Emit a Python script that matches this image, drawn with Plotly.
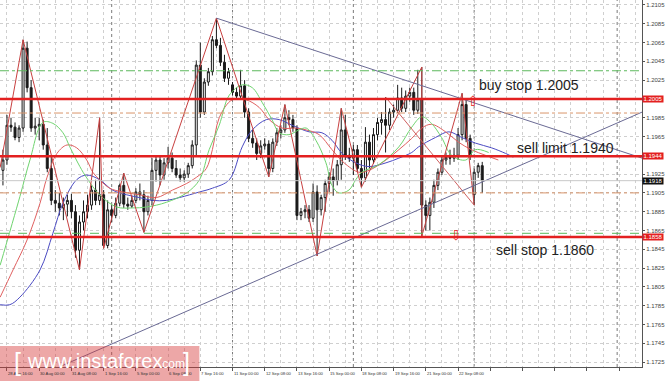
import plotly.graph_objects as go

# ---------------- data (EUR/USD H4) ----------------
bar_index = list(range(-1, 119))
opens = [1.1929, 1.1940, 1.1977, 1.1975, 1.1964, 1.1974, 1.2059, 1.2017, 1.1974, 1.1976,
         1.1978, 1.1956, 1.1931, 1.1897, 1.1894, 1.1889, 1.1893, 1.1897, 1.1885, 1.1844,
         1.1874, 1.1885, 1.1892, 1.1908, 1.1897, 1.1903, 1.1849, 1.1887, 1.1881, 1.1894,
         1.1913, 1.1893, 1.1891, 1.1897, 1.1906, 1.1903, 1.1885, 1.1897, 1.1929, 1.1940,
         1.1924, 1.1937, 1.1942, 1.1931, 1.1924, 1.1921, 1.1925, 1.1934, 1.1956, 1.2041,
         1.1991, 1.2023, 1.2034, 1.2068, 1.2062, 1.2044, 1.2027, 1.2020, 1.2012, 1.2008,
         1.2019, 1.1991, 1.1963, 1.1958, 1.1947, 1.1955, 1.1957, 1.1931, 1.1959, 1.1969,
         1.1972, 1.1985, 1.1983, 1.1974, 1.1881, 1.1885, 1.1887, 1.1878, 1.1906, 1.1887,
         1.1900, 1.1915, 1.1922, 1.1918, 1.1935, 1.1972, 1.1945, 1.1942, 1.1951, 1.1931,
         1.1921, 1.1959, 1.1940, 1.1967, 1.1980, 1.1983, 1.1977, 1.1991, 1.1993, 1.2006,
         1.1995, 1.2008, 1.2012, 1.1993, 1.2004, 1.1892, 1.1881, 1.1895, 1.1913, 1.1927,
         1.1940, 1.1943, 1.1942, 1.1945, 1.1967, 1.1999, 1.1963, 1.1903, 1.1927, 1.1934]
highs = [1.1951, 1.1988, 1.1985, 1.1980, 1.1977, 1.2068, 1.2066, 1.2025, 1.1985, 1.1985,
         1.1983, 1.1974, 1.1945, 1.1908, 1.1905, 1.1900, 1.1903, 1.1904, 1.1892, 1.1881,
         1.1897, 1.1903, 1.1913, 1.1919, 1.1985, 1.1908, 1.1897, 1.1892, 1.1900, 1.1915,
         1.1926, 1.1900, 1.1902, 1.1910, 1.1915, 1.1908, 1.1902, 1.1942, 1.1945, 1.1945,
         1.1942, 1.1954, 1.1948, 1.1940, 1.1931, 1.1929, 1.1937, 1.1961, 1.2046, 1.2065,
         1.2027, 1.2038, 1.2072, 1.2091, 1.2070, 1.2052, 1.2038, 1.2023, 1.2017, 1.2036,
         1.2025, 1.1995, 1.1972, 1.1963, 1.1961, 1.1963, 1.1961, 1.1963, 1.1974, 1.1977,
         1.1999, 1.1993, 1.1988, 1.1977, 1.1889, 1.1892, 1.1892, 1.1915, 1.1913, 1.1903,
         1.1919, 1.1927, 1.1931, 1.1940, 1.1995, 1.1988, 1.1953, 1.1956, 1.1956, 1.1940,
         1.1975, 1.1967, 1.1974, 1.1985, 1.1991, 1.2007, 1.1995, 1.1999, 1.2020, 1.2017,
         1.2014, 1.2017, 1.2017, 1.2036, 1.2039, 1.1897, 1.1900, 1.1919, 1.1931, 1.1945,
         1.1948, 1.1951, 1.1953, 1.1974, 1.2011, 1.2004, 1.1967, 1.1931, 1.1937, 1.1938]
lows = [1.1913, 1.1935, 1.1970, 1.1961, 1.1959, 1.1970, 1.2012, 1.1970, 1.1967, 1.1961,
        1.1951, 1.1927, 1.1892, 1.1885, 1.1881, 1.1876, 1.1880, 1.1878, 1.1836, 1.1823,
        1.1865, 1.1878, 1.1887, 1.1892, 1.1892, 1.1846, 1.1846, 1.1874, 1.1878, 1.1891,
        1.1889, 1.1887, 1.1889, 1.1894, 1.1897, 1.1863, 1.1881, 1.1892, 1.1917, 1.1913,
        1.1919, 1.1931, 1.1927, 1.1921, 1.1917, 1.1917, 1.1921, 1.1931, 1.1944, 1.1985,
        1.1988, 1.2019, 1.2030, 1.2059, 1.2040, 1.2023, 1.2020, 1.2009, 1.2004, 1.2006,
        1.1985, 1.1959, 1.1953, 1.1940, 1.1942, 1.1951, 1.1922, 1.1927, 1.1955, 1.1963,
        1.1969, 1.1977, 1.1970, 1.1876, 1.1876, 1.1878, 1.1874, 1.1874, 1.1838, 1.1881,
        1.1885, 1.1906, 1.1902, 1.1913, 1.1919, 1.1940, 1.1938, 1.1924, 1.1927, 1.1911,
        1.1917, 1.1931, 1.1936, 1.1961, 1.1967, 1.1948, 1.1972, 1.1985, 1.1990, 1.1991,
        1.1991, 1.2002, 1.1988, 1.1989, 1.1859, 1.1865, 1.1865, 1.1889, 1.1908, 1.1924,
        1.1935, 1.1935, 1.1938, 1.1940, 1.1961, 1.1959, 1.1940, 1.1892, 1.1921, 1.1905]
closes = [1.1940, 1.1977, 1.1975, 1.1964, 1.1974, 1.2059, 1.2017, 1.1974, 1.1976, 1.1978,
          1.1956, 1.1931, 1.1897, 1.1894, 1.1889, 1.1893, 1.1897, 1.1885, 1.1844, 1.1874,
          1.1885, 1.1892, 1.1908, 1.1897, 1.1903, 1.1849, 1.1887, 1.1881, 1.1894, 1.1913,
          1.1893, 1.1891, 1.1897, 1.1906, 1.1903, 1.1885, 1.1897, 1.1929, 1.1940, 1.1924,
          1.1937, 1.1942, 1.1931, 1.1924, 1.1921, 1.1925, 1.1934, 1.1956, 1.2041, 1.1991,
          1.2023, 1.2034, 1.2068, 1.2062, 1.2044, 1.2027, 1.2034, 1.2012, 1.2008, 1.2019,
          1.1991, 1.1963, 1.1958, 1.1947, 1.1955, 1.1957, 1.1931, 1.1959, 1.1969, 1.1972,
          1.1985, 1.1983, 1.1974, 1.1881, 1.1885, 1.1887, 1.1878, 1.1906, 1.1887, 1.1900,
          1.1915, 1.1922, 1.1918, 1.1935, 1.1972, 1.1945, 1.1942, 1.1951, 1.1931, 1.1921,
          1.1959, 1.1940, 1.1967, 1.1980, 1.1983, 1.1977, 1.1991, 1.1993, 1.2006, 1.1995,
          1.2008, 1.2012, 1.1993, 1.2004, 1.1892, 1.1881, 1.1895, 1.1913, 1.1927, 1.1940,
          1.1943, 1.1942, 1.1945, 1.1967, 1.1999, 1.1963, 1.1945, 1.1927, 1.1934, 1.1918]

# Alligator lines (shifted forward), read as sampled points (bar index, price)
lips_x = [-1.7, 3.2, 5.7, 8.9, 11.4, 13.9, 15.6, 18.1, 19.8, 23, 27.2, 31.2, 34.7, 39.6, 44.6,
          47.8, 50.2, 52.7, 55.2, 58.4, 60.9, 63.4, 65.8, 67.6, 70, 72.5, 74.3, 76.7, 79.2,
          80.7, 82.4, 84.9, 86.6, 88.1, 92.3, 97.3, 100.5, 103, 105.4, 107.9, 110.4, 113.9,
          116.3, 119.6]
lips_y = [1.1828, 1.1901, 1.1940, 1.1980, 1.1979, 1.1969, 1.1954, 1.1933, 1.1921, 1.1903,
          1.1890, 1.1889, 1.1890, 1.1895, 1.1905, 1.1919, 1.1951, 1.1977, 1.2009, 1.2020,
          1.2017, 1.2001, 1.1983, 1.1969, 1.1967, 1.1972, 1.1974, 1.1961, 1.1937, 1.1913,
          1.1905, 1.1908, 1.1919, 1.1927, 1.1935, 1.1954, 1.1975, 1.1986, 1.1979, 1.1964,
          1.1945, 1.1940, 1.1951, 1.1948]
teeth_x = [-1.7, 1.5, 5, 8.2, 9.9, 12.4, 14.9, 17.3, 19.8, 21.3, 23, 25.5, 28.7, 32.9, 37.1,
           41.1, 44.6, 47.8, 49.5, 51, 52.7, 55.9, 59.4, 62.6, 65.1, 68.3, 71.8, 74.3, 77.5,
           80.7, 83.7, 87.4, 89.9, 94.1, 97.3, 100.5, 103, 105.4, 108.9, 112.1, 115.3, 118.8,
           122]
teeth_y = [1.1794, 1.1823, 1.1855, 1.1894, 1.1921, 1.1947, 1.1956, 1.1953, 1.1940, 1.1927,
           1.1919, 1.1910, 1.1906, 1.1903, 1.1900, 1.1908, 1.1915, 1.1924, 1.1931, 1.1951,
           1.1985, 1.2004, 1.2004, 1.1996, 1.1983, 1.1974, 1.1974, 1.1972, 1.1967, 1.1951,
           1.1937, 1.1927, 1.1929, 1.1940, 1.1951, 1.1963, 1.1974, 1.1978, 1.1970, 1.1959,
           1.1951, 1.1945, 1.1940]
jaw_x = [-1.7, 0.7, 3.2, 8.2, 11.4, 13.9, 17.3, 19.8, 23, 26.2, 29.7, 32.9, 36.1, 39.6, 42.8,
         47.8, 51, 55.2, 58.4, 60.9, 64.4, 67.6, 70.8, 75, 78.2, 80.7, 83.2, 86.6, 89.9, 94.1,
         97.3, 100.5, 102.2, 106.4, 109.7, 112.9, 116.3, 120.3, 123.8, 125.7]
jaw_y = [1.1786, 1.1786, 1.1794, 1.1823, 1.1862, 1.1894, 1.1919, 1.1924, 1.1919, 1.1908,
         1.1903, 1.1900, 1.1897, 1.1897, 1.1900, 1.1906, 1.1910, 1.1919, 1.1954, 1.1972,
         1.1983, 1.1983, 1.1977, 1.1970, 1.1969, 1.1961, 1.1947, 1.1937, 1.1933, 1.1937,
         1.1942, 1.1948, 1.1954, 1.1964, 1.1970, 1.1964, 1.1958, 1.1953, 1.1947, 1.1943]

# ZigZag swing points
zig_x = [-1.7, 4, 18, 23, 24, 29, 34, 52, 65, 69, 77, 83, 88, 103, 103, 113, 116]
zig_y = [1.1932, 1.2068, 1.1823, 1.1985, 1.1846, 1.1926, 1.1863, 1.2091, 1.1922, 1.1999,
         1.1838, 1.1995, 1.1911, 1.2039, 1.1859, 1.2011, 1.1892]
zig2_x = [94, 116]
zig2_y = [1.2007, 1.1892]

# trend lines (two anchor points each)
down_trend_x = [52, 157.7]
down_trend_y = [1.2091, 1.1942]
up_trend_x = [13.1, 157.7]
up_trend_y = [1.1720, 1.1991]

# horizontal levels
buy_stop = 1.2005
sell_limit = 1.1944
sell_stop = 1.1858
green_level = 1.2035
orange_levels = [1.1990, 1.1905]
green_dash_level = 1.1862
last_price = 1.1918

# axes labels
price_ticks = [1.1725, 1.1745, 1.1765, 1.1785, 1.1805, 1.1825, 1.1845, 1.1865, 1.1885, 1.1905,
               1.1925, 1.1945, 1.1965, 1.1985, 1.2005, 1.2025, 1.2045, 1.2065, 1.2085, 1.2105]
price_labels = ["1.1725", "1.1745", "1.1765", "1.1785", "1.1805", "1.1825", "1.1845", "1.1865",
                "1.1885", "1.1905", "1.1925", "", "1.1965", "1.1985", "", "1.2025", "1.2045",
                "1.2065", "1.2085", "1.2105"]
date_ticks = [-8, 0, 8, 16, 24, 32, 40, 48, 56, 64, 72, 80, 88, 96, 104, 112]
date_labels = ["25 Aug 08:00", "28 Aug 16:00", "30 Aug 00:00", "31 Aug 08:00", "1 Sep 16:00",
               "5 Sep 00:00", "6 Sep 08:00", "7 Sep 16:00", "11 Sep 00:00", "12 Sep 08:00",
               "13 Sep 16:00", "15 Sep 00:00", "18 Sep 08:00", "19 Sep 16:00", "21 Sep 00:00",
               "22 Sep 08:00"]
week_separators = [26, 56, 86, 116, 151.5]

X_RANGE = [-1.733, 157.67]
Y_RANGE = [1.17197, 1.21103]

fig = go.Figure()

fig.add_trace(go.Candlestick(
    x=bar_index, open=opens, high=highs, low=lows, close=closes,
    increasing=dict(line=dict(color="#1a1a1a", width=1), fillcolor="white"),
    decreasing=dict(line=dict(color="#1a1a1a", width=1), fillcolor="#1a1a1a"),
    whiskerwidth=0, hoverinfo="skip", showlegend=False))

def line(x, y, color, width=1, dash="solid", shape="linear"):
    fig.add_trace(go.Scatter(x=x, y=y, mode="lines", hoverinfo="skip", showlegend=False,
                             line=dict(color=color, width=width, dash=dash, shape=shape)))

line(jaw_x, jaw_y, "#4b4bc3", shape="spline")
line(teeth_x, teeth_y, "#e06060", shape="spline")
line(lips_x, lips_y, "#6fd46f", shape="spline")
line(zig_x, zig_y, "#c84040")
line(zig2_x, zig2_y, "#d06060")
line(down_trend_x, down_trend_y, "#6a6a94")
line(up_trend_x, up_trend_y, "#6a6a94")

shapes = []
def hline(y, color, width, dash="solid"):
    shapes.append(dict(type="line", xref="paper", x0=0, x1=1, yref="y", y0=y, y1=y,
                       line=dict(color=color, width=width, dash=dash), layer="above"))

hline(last_price, "#c8c8c8", 1)
hline(green_level, "#5cb85c", 1, "dashdot")
for lv in orange_levels:
    hline(lv, "#d9956a", 1, "dashdot")
hline(buy_stop, "#e32020", 2.5)
hline(sell_limit, "#e32020", 2.5)
hline(sell_stop, "#e32020", 2.5)
hline(green_dash_level, "#5cb85c", 1, "dash")
for xs in week_separators:
    shapes.append(dict(type="line", xref="x", x0=xs, x1=xs, yref="paper", y0=0, y1=1,
                       line=dict(color="#7a7a7a", width=1, dash="dot"), layer="below"))

# watermark box
shapes.append(dict(type="rect", xref="paper", yref="paper", x0=0, x1=200 / 644,
                   y0=-14 / 367, y1=21 / 367, fillcolor="rgba(215,60,60,0.45)",
                   line=dict(width=0), layer="above"))

ann = []
for v, t in zip(date_ticks, date_labels):
    ann.append(dict(x=v, xref="x", y=0, yref="paper", yanchor="top", xanchor="left",
                    xshift=-1, yshift=-2, text=t, showarrow=False,
                    font=dict(size=4.2, color="#333", family="Liberation Sans")))

def axis_tag(price, text, bg):
    ann.append(dict(x=1, xref="paper", y=price, yref="y", xanchor="left", yanchor="middle",
                    text=text, showarrow=False, bgcolor=bg, borderpad=0, width=20,
                    align="center", font=dict(size=6, color="white", family="Liberation Sans")))

axis_tag(buy_stop, "1.2005", "#e32020")
axis_tag(sell_limit, "1.1944", "#e32020")
axis_tag(last_price, "1.1918", "#111111")
axis_tag(sell_stop, "1.1858", "#e32020")

txt_font = dict(size=14, color="#222", family="Liberation Sans")
ann.append(dict(x=116.8, y=1.2020, xref="x", yref="y", xanchor="left", yanchor="middle",
                text="buy stop 1.2005", showarrow=False, font=txt_font))
ann.append(dict(x=151.3, y=1.1953, xref="x", yref="y", xanchor="right", yanchor="middle",
                text="sell limit 1.1940", showarrow=False, font=txt_font))
ann.append(dict(x=120.8, y=1.1844, xref="x", yref="y", xanchor="left", yanchor="middle",
                text="sell stop 1.1860", showarrow=False, font=txt_font))

ann.append(dict(x=115.8, y=1.2003, xref="x", yref="y", text="⇧", showarrow=False,
                font=dict(size=14, color="#e32020", family="DejaVu Sans")))
ann.append(dict(x=111.6, y=1.1860, xref="x", yref="y", text="⇩", showarrow=False,
                font=dict(size=14, color="#e32020", family="DejaVu Sans")))

wm_font = "Liberation Sans"
ann.append(dict(x=12 / 644, y=5 / 367, xref="paper", yref="paper", xanchor="left",
                yanchor="middle", text="[", showarrow=False,
                font=dict(size=25, color="white", family=wm_font)))
ann.append(dict(x=25 / 644, y=6 / 367, xref="paper", yref="paper", xanchor="left",
                yanchor="middle", text="www.instaforex", showarrow=False,
                font=dict(size=20, color="white", family=wm_font)))
ann.append(dict(x=157 / 644, y=3 / 367, xref="paper", yref="paper", xanchor="left",
                yanchor="middle", text=".com", showarrow=False,
                font=dict(size=12, color="white", family=wm_font)))
ann.append(dict(x=182 / 644, y=5 / 367, xref="paper", yref="paper", xanchor="left",
                yanchor="middle", text="]", showarrow=False,
                font=dict(size=25, color="white", family=wm_font)))

fig.update_layout(
    width=665, height=381, margin=dict(l=0, r=21, t=0, b=14),
    paper_bgcolor="white", plot_bgcolor="white", showlegend=False,
    shapes=shapes, annotations=ann, hovermode=False,
    xaxis=dict(range=X_RANGE, rangeslider=dict(visible=False), tick0=0, dtick=8,
               showticklabels=False, ticks="outside", ticklen=3, tickcolor="#555",
               showgrid=True, gridcolor="#cfcfcf", griddash="dot", gridwidth=1,
               minor=dict(dtick=4, tick0=0, showgrid=True, gridcolor="#cfcfcf",
                          griddash="dot", ticks=""),
               showline=True, linecolor="#555", linewidth=1, zeroline=False, fixedrange=True),
    yaxis=dict(range=Y_RANGE, side="right", tickmode="array", tickvals=price_ticks,
               ticktext=price_labels,
               tickfont=dict(size=6, color="#444", family="Liberation Sans"),
               ticks="outside", ticklen=2, tickcolor="#555",
               showgrid=True, gridcolor="#cfcfcf", griddash="dot", gridwidth=1,
               showline=True, linecolor="#555", linewidth=1, zeroline=False, fixedrange=True),
)

fig.write_html("out.html")
